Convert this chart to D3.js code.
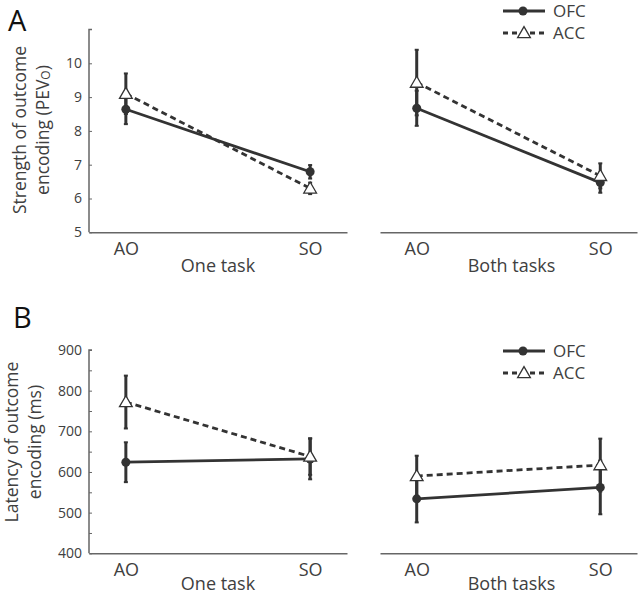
<!DOCTYPE html>
<html><head><meta charset="utf-8">
<script src="https://cdn.jsdelivr.net/npm/d3@7"></script>
<style>body{margin:0;background:#fff}svg{display:block}text{font-family:"Open Sans",sans-serif;fill:#404040}</style>
</head><body><svg id="c" width="640" height="595"></svg>
<script>
const conditions = ["AO","SO"];
const series = ["OFC","ACC"];
const taskLabels = ["One task","Both tasks"];
// Panel A: strength (PEVo)
const strengthOneOFC = [8.64, 6.79], strengthOneOFCErr = [0.44, 0.20];
const strengthOneACC = [9.10, 6.30], strengthOneACCErr = [0.60, 0.17];
const strengthBothOFC = [8.67, 6.47], strengthBothOFCErr = [0.52, 0.30];
const strengthBothACC = [9.43, 6.67], strengthBothACCErr = [0.97, 0.37];
const strengthTicks = [5,6,7,8,9,10];
// Panel B: latency (ms)
const latencyOneOFC = [624, 632], latencyOneOFCErr = [49, 50];
const latencyOneACC = [772, 638], latencyOneACCErr = [65, 45];
const latencyBothOFC = [534, 562], latencyBothOFCErr = [58, 66];
const latencyBothACC = [590, 617], latencyBothACCErr = [50, 65];
const latencyTicks = [400,500,600,700,800,900];
const latencyMinorTicks = [450,550,650,750,850];

const svg = d3.select("#c");
const dark = "#333", axisCol = "#666";

function panel(cfg){
  const y = d3.scaleLinear().domain(cfg.domain).range([cfg.bottom, cfg.top]);
  const xs = [d3.scalePoint().domain(conditions).range([89,347]).padding(0.2),
              d3.scalePoint().domain(conditions).range([380,637]).padding(0.2)];
  // y axis
  const ya = svg.append("g").attr("transform","translate(89,0)")
    .call(d3.axisRight(y).tickValues(cfg.allTicks).tickSize(3).tickFormat(""));
  ya.select(".domain").attr("stroke",axisCol).attr("stroke-width",1.5).attr("d",`M3,${cfg.top}H0V${cfg.bottom}`);
  ya.selectAll(".tick line").attr("stroke",axisCol).attr("stroke-width",1);
  svg.append("g").selectAll("text").data(cfg.ticks).join("text")
    .attr("x",82).attr("y",d=>y(d)).attr("dy","0.35em").attr("text-anchor","end")
    .attr("font-size",14).text(d=>d);
  // y title
  const tg = svg.append("text").attr("transform",`translate(${cfg.titleX},${cfg.titleY}) rotate(-90)`)
    .attr("text-anchor","middle").attr("font-size",17.5);
  tg.append("tspan").attr("x",0).attr("dy",0).text(cfg.title1);
  tg.append("tspan").attr("x",0).attr("dy",23).text(cfg.title2);
  if (cfg.sub) {
    tg.append("tspan").attr("font-size",12).attr("dy",1).text(cfg.sub);
    tg.append("tspan").attr("dy",-1).text(")");
  }
  cfg.data.forEach((d,i)=>{
    const x = xs[i];
    const xa = svg.append("g").attr("transform",`translate(0,${cfg.bottom})`)
      .call(d3.axisBottom(x).tickSize(0).tickPadding(10));
    xa.select(".domain").attr("stroke",axisCol).attr("stroke-width",1.5);
    xa.selectAll("text").attr("font-size",18).attr("fill","#404040").style("font-family","Open Sans");
    svg.append("text").attr("x",(x.range()[0]+x.range()[1])/2+(i?3:0)).attr("y",cfg.bottom+cfg.taskDy)
      .attr("text-anchor","middle").attr("font-size",18).text(taskLabels[i]);
    // error bars (draw ACC then OFC)
    [["ACC",d.acc,d.accErr],["OFC",d.ofc,d.ofcErr]].forEach(([s,v,e])=>{
      svg.append("g").selectAll("g").data(conditions).join("g").each(function(c,j){
        const g=d3.select(this), cx=x(c);
        g.append("line").attr("x1",cx).attr("x2",cx).attr("y1",y(v[j]-e[j])).attr("y2",y(v[j]+e[j]))
          .attr("stroke",dark).attr("stroke-width",3);
        [v[j]-e[j],v[j]+e[j]].forEach(yy=>g.append("line").attr("x1",cx-2).attr("x2",cx+2)
          .attr("y1",y(yy)).attr("y2",y(yy)).attr("stroke",dark).attr("stroke-width",2));
      });
    });
    const line = d3.line().x((v,j)=>x(conditions[j])).y(v=>y(v));
    svg.append("path").datum(d.ofc).attr("d",line).attr("fill","none").attr("stroke",dark).attr("stroke-width",2.8);
    svg.append("path").datum(d.acc).attr("d",line).attr("fill","none").attr("stroke",dark).attr("stroke-width",2.8)
      .attr("stroke-dasharray","6,4");
    svg.append("g").selectAll("circle").data(d.ofc).join("circle")
      .attr("cx",(v,j)=>x(conditions[j])).attr("cy",v=>y(v)).attr("r",4.5).attr("fill",dark);
    svg.append("g").selectAll("path").data(d.acc).join("path")
      .attr("d",d3.symbol(d3.symbolTriangle,70)()).attr("transform",(v,j)=>`translate(${x(conditions[j])},${y(v)+1})`)
      .attr("fill","#fff").attr("stroke",dark).attr("stroke-width",1.3);
  });
  // legend
  const lg = svg.append("g").attr("transform",`translate(0,${cfg.legendY})`);
  lg.append("line").attr("x1",503).attr("x2",545).attr("y1",0).attr("y2",0).attr("stroke",dark).attr("stroke-width",2.8);
  lg.append("circle").attr("cx",523).attr("cy",0).attr("r",4.5).attr("fill",dark);
  lg.append("text").attr("x",553).attr("y",0).attr("dy","0.35em").attr("font-size",17).text(series[0]);
  lg.append("line").attr("x1",503).attr("x2",545).attr("y1",22).attr("y2",22).attr("stroke",dark).attr("stroke-width",2.8).attr("stroke-dasharray","5,4");
  lg.append("path").attr("d",d3.symbol(d3.symbolTriangle,70)()).attr("transform","translate(524,23)")
    .attr("fill","#fff").attr("stroke",dark).attr("stroke-width",1.3);
  lg.append("text").attr("x",553).attr("y",22).attr("dy","0.35em").attr("font-size",17).text(series[1]);
  // panel letter
  svg.append("text").attr("x",cfg.letterX).attr("y",cfg.letterY).attr("font-size",29)
    .style("fill","#111").text(cfg.letter);
}

panel({letter:"A",letterX:8,letterY:31,domain:[5,11],top:29.5,bottom:232.3,
  ticks:strengthTicks,allTicks:strengthTicks,titleX:26,titleY:130,
  title1:"Strength of outcome",title2:"encoding (PEV",sub:"O",taskDy:40,
  data:[{ofc:strengthOneOFC,ofcErr:strengthOneOFCErr,acc:strengthOneACC,accErr:strengthOneACCErr},
        {ofc:strengthBothOFC,ofcErr:strengthBothOFCErr,acc:strengthBothACC,accErr:strengthBothACCErr}],
  legendY:11});
panel({letter:"B",letterX:13,letterY:328,domain:[400,900],top:350,bottom:553.3,
  ticks:latencyTicks,allTicks:latencyTicks.concat(latencyMinorTicks),titleX:18,titleY:442,
  title1:"Latency of outcome",title2:"encoding (ms)",taskDy:37,
  data:[{ofc:latencyOneOFC,ofcErr:latencyOneOFCErr,acc:latencyOneACC,accErr:latencyOneACCErr},
        {ofc:latencyBothOFC,ofcErr:latencyBothOFCErr,acc:latencyBothACC,accErr:latencyBothACCErr}],
  legendY:351});
</script></body></html>
